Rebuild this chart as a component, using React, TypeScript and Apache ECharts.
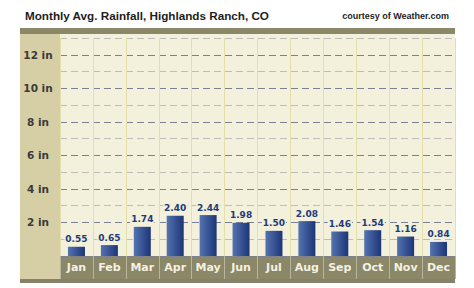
import React, { useEffect, useRef } from "react";
import * as echarts from "echarts";

const months = ["Jan", "Feb", "Mar", "Apr", "May", "Jun", "Jul", "Aug", "Sep", "Oct", "Nov", "Dec"];
const rainfall = [0.55, 0.65, 1.74, 2.4, 2.44, 1.98, 1.5, 2.08, 1.46, 1.54, 1.16, 0.84];
const titleText = "Monthly Avg. Rainfall, Highlands Ranch, CO";
const creditText = "courtesy of Weather.com";

const OLIVE = "#8b8769";
const PANEL = "#d6cea5";
const PLOT_BG = "#f3f0db";

export default function App() {
  const ref = useRef<HTMLDivElement>(null);
  useEffect(() => {
    if (!ref.current) return;
    const chart = echarts.init(ref.current, null, { renderer: "svg" });
    chart.setOption({
      animation: false,
      backgroundColor: "#ffffff",
      title: [
        {
          text: titleText,
          left: 20,
          top: 4,
          textStyle: { fontFamily: "Liberation Sans", fontWeight: "bold", fontSize: 11.7, color: "#1e1e1e" },
        },
        {
          text: creditText,
          right: 20,
          top: 6,
          textStyle: { fontFamily: "Liberation Sans", fontWeight: "bold", fontSize: 9, color: "#1e1e1e" },
        },
      ],
      graphic: {
        elements: [
          { type: "rect", z: -10, shape: { x: 20, y: 28, width: 435, height: 6 }, style: { fill: OLIVE } },
          { type: "rect", z: -10, shape: { x: 20, y: 34, width: 40, height: 245 }, style: { fill: PANEL } },
          { type: "rect", z: -10, shape: { x: 60, y: 34, width: 395, height: 5 }, style: { fill: PLOT_BG } },
          { type: "rect", z: -10, shape: { x: 60, y: 256, width: 395, height: 23 }, style: { fill: OLIVE } },
          { type: "rect", z: -10, shape: { x: 20, y: 279, width: 435, height: 4 }, style: { fill: "#85816a" } },
        ],
      },
      grid: {
        left: 60,
        right: 19,
        top: 38,
        bottom: 32,
        show: true,
        backgroundColor: PLOT_BG,
        borderWidth: 0,
      },
      xAxis: {
        type: "category",
        data: months,
        axisLine: { show: false },
        axisTick: { show: true, length: 23, lineStyle: { color: "#b9b59c", width: 1 } },
        splitLine: { show: true, lineStyle: { color: "#e4e0ab", width: 1 } },
        axisLabel: {
          color: "#f4f1e0",
          fontFamily: "DejaVu Sans",
          fontWeight: "bold",
          fontSize: 11,
          margin: 6,
        },
      },
      yAxis: {
        type: "value",
        min: 0,
        max: 13,
        interval: 1,
        axisLine: { show: false },
        axisTick: { show: false },
        axisLabel: {
          align: "center",
          margin: 22,
          color: "#3a3a3a",
          fontFamily: "DejaVu Sans",
          fontWeight: "bold",
          fontSize: 10.5,
          formatter: (v: number) => (v > 0 && v % 2 === 0 ? `${v} in` : ""),
        },
        splitLine: {
          show: true,
          lineStyle: { type: [7, 4], color: ["#7b8094", "#bcbdba"], width: 1 },
        },
      },
      series: [
        {
          type: "bar",
          data: rainfall,
          barWidth: 17,
          itemStyle: {
            color: new echarts.graphic.LinearGradient(0, 0, 1, 0, [
              { offset: 0, color: "#5573b0" },
              { offset: 1, color: "#1c3577" },
            ]),
          },
          label: {
            show: true,
            position: "top",
            distance: 3,
            formatter: (p: any) => Number(p.value).toFixed(2),
            color: "#223a78",
            fontFamily: "DejaVu Sans",
            fontWeight: "bold",
            fontSize: 9,
            backgroundColor: PLOT_BG,
            padding: [0, 1],
          },
        },
      ],
    });
    return () => chart.dispose();
  }, []);
  return <div ref={ref} style={{ position: "fixed", left: 0, top: 0, width: 474, height: 288 }} />;
}
